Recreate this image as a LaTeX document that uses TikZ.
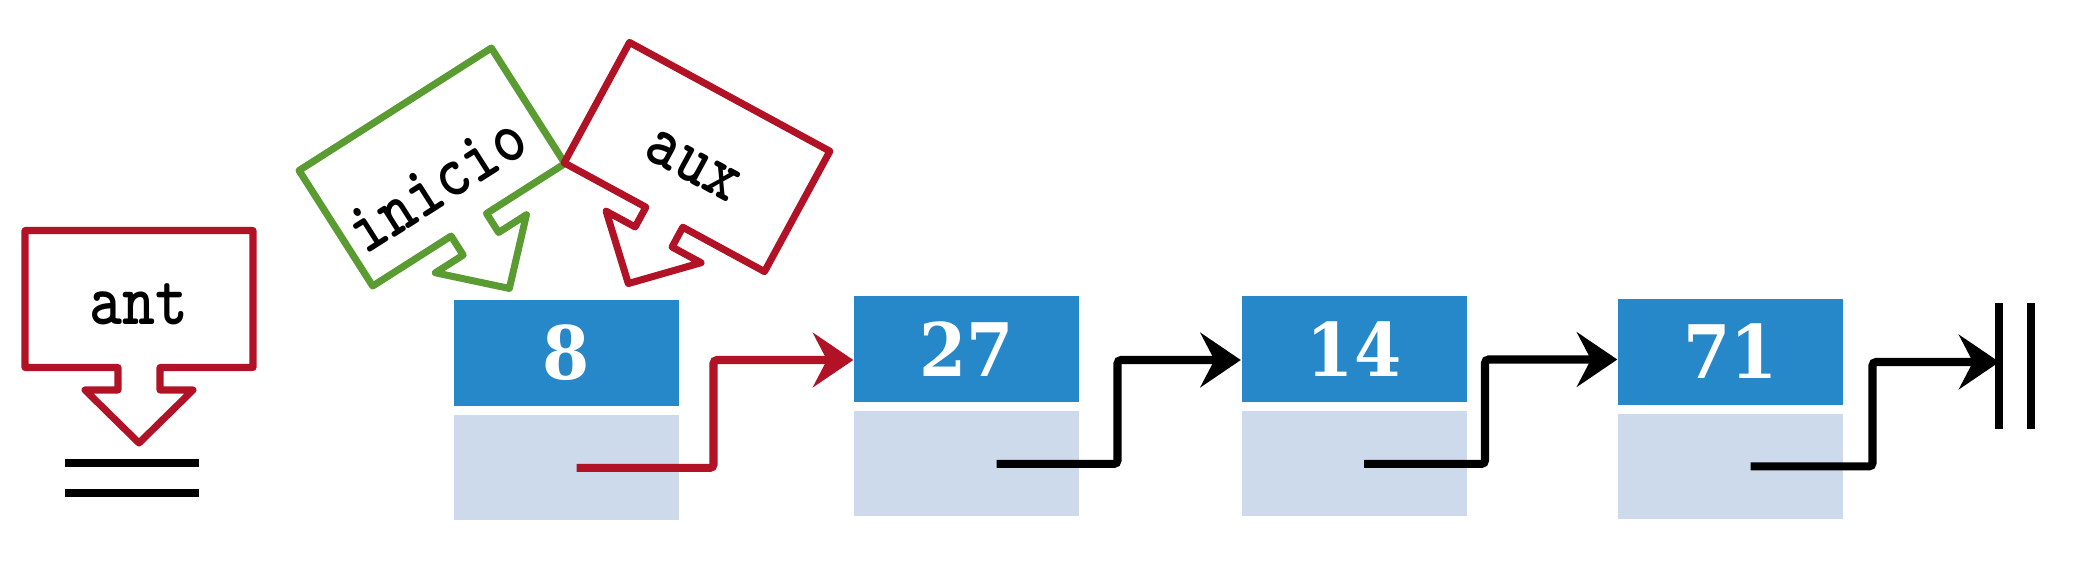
\documentclass[tikz,border=0pt]{standalone}
\usepackage{fontspec}
\usepackage{tikz}
\usetikzlibrary{calc, positioning, arrows.meta}
\newfontfamily\lblfont{lmmonolt10-bold}[Extension=.otf, FakeStretch=0.85]
\newfontfamily\numfont{DejaVu Serif}[FakeStretch=0.92]
\definecolor{rojo}{RGB}{177,18,38}
\definecolor{verde}{RGB}{90,155,50}
\definecolor{azul}{RGB}{39,136,201}
\definecolor{celeste}{RGB}{205,218,236}
\tikzstyle{dato}=[fill=azul, minimum width=2.25cm, minimum height=1.06cm, inner sep=0pt, text=white, font=\numfont\bfseries\fontsize{21}{24}\selectfont]
\tikzstyle{sig}=[fill=celeste, minimum width=2.25cm, minimum height=1.05cm, inner sep=0pt]
\tikzstyle{ptr}=[line width=2.3pt, rounded corners=1pt, -{Stealth[length=11.5pt, width=15.5pt, inset=4pt]}]
\tikzstyle{callout}=[line width=2pt, line join=round, fill=white]
\tikzstyle{lbl}=[inner sep=0pt, font=\lblfont\fontsize{21}{24}\selectfont]
\tikzstyle{bar}=[line width=2.3pt]
\tikzset{>=stealth}

\begin{document}
\begin{tikzpicture}
\useasboundingbox (0,0) rectangle (20.88,5.82);
% the callouts
\begin{scope}[shift={(1.39,2.83)}]
\draw[callout, draw=rojo] (-1.14,0.685) -- (1.14,0.685) -- (1.14,-0.685) -- (0.21,-0.685) -- (0.21,-0.91) -- (0.54,-0.91) -- (0,-1.44) -- (-0.54,-0.91) -- (-0.21,-0.91) -- (-0.21,-0.685) -- (-1.14,-0.685) -- cycle;
\node[lbl] (ant) at (0,-0.05) {ant};
\end{scope}
\begin{scope}[shift={(4.32,4.15)}, rotate=32.5]
\draw[callout, draw=verde] (-1.14,0.685) -- (1.14,0.685) -- (1.14,-0.685) -- (0.21,-0.685) -- (0.21,-0.91) -- (0.54,-0.91) -- (0,-1.44) -- (-0.54,-0.91) -- (-0.21,-0.91) -- (-0.21,-0.685) -- (-1.14,-0.685) -- cycle;
\node[lbl, rotate=32.5] (inicio) at (-0.05,-0.17) {inicio};
\end{scope}
\begin{scope}[shift={(6.97,4.25)}, rotate=-28.5]
\draw[callout, draw=rojo] (-1.14,0.685) -- (1.14,0.685) -- (1.14,-0.685) -- (0.21,-0.685) -- (0.21,-0.91) -- (0.54,-0.91) -- (0,-1.44) -- (-0.54,-0.91) -- (-0.21,-0.91) -- (-0.21,-0.685) -- (-1.14,-0.685) -- cycle;
\node[lbl, rotate=-28.5] (aux) at (0,-0.1) {aux};
\end{scope}
% null marks
\node[minimum width=1.32cm, minimum height=0.28cm, inner sep=0pt] (nulo) at (1.32,1.04) {};
\draw[bar] (nulo.north west) -- (nulo.north east);
\draw[bar] (nulo.south west) -- (nulo.south east);
\node[minimum width=0.3cm, minimum height=1.24cm, inner sep=0pt] (fin) at (20.15,2.16) {};
\draw[bar] (fin.north west) -- (fin.south west);
\draw[bar] (fin.north east) -- (fin.south east);
% the list nodes
\node[dato] (t8) at (5.665,2.29) {8};
\node[sig, below=0.08cm of t8] (b8) {};
\node[dato] (t27) at (9.665,2.33) {27};
\node[sig, below=0.08cm of t27] (b27) {};
\node[dato] (t14) at (13.54,2.33) {14};
\node[sig, below=0.08cm of t14] (b14) {};
\node[dato] (t71) at (17.305,2.305) {71};
\node[sig, below=0.08cm of t71] (b71) {};
% the links
\draw[ptr, rojo] ([xshift=1mm]b8.center) -- ++(1.37,0) |- ([yshift=-1.1mm]t27.west);
\draw[ptr] ([xshift=3mm]b27.center) -- ++(1.21,0) |- ([yshift=-1.1mm]t14.west);
\draw[ptr] ([xshift=1mm]b14.center) -- ++(1.21,0) |- ([yshift=-0.8mm]t71.west);
\draw[ptr] ([xshift=2mm]b71.center) -- ++(1.22,0) |- ([yshift=0.4mm]fin.west);
\end{tikzpicture}
\end{document}
